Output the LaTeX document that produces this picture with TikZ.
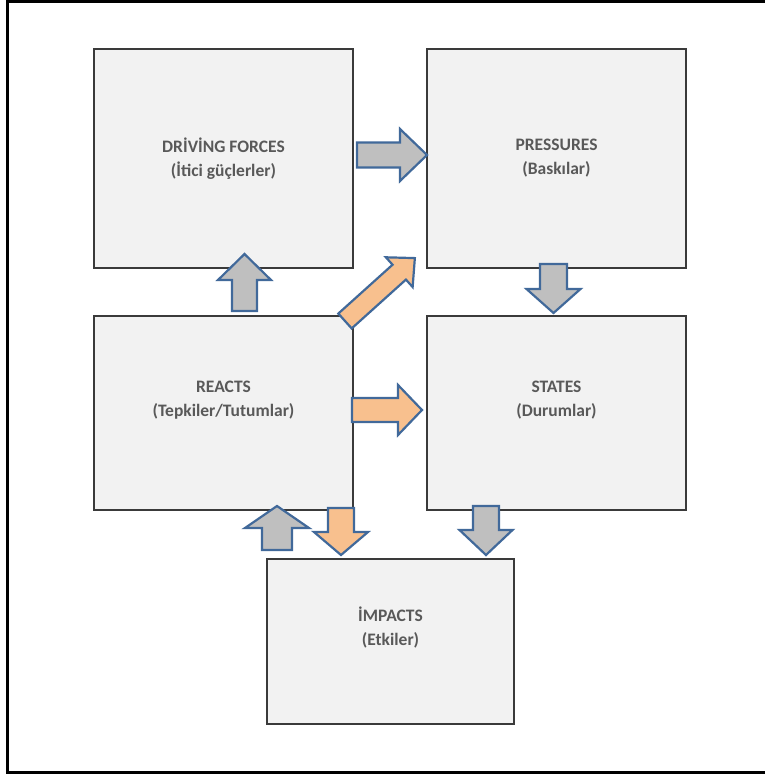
\documentclass[tikz,border=0pt]{standalone}
\usepackage{fontspec}
\setmainfont{Carlito}
\definecolor{boxfill}{HTML}{F2F2F2}
\definecolor{boxline}{HTML}{3A3A3A}
\definecolor{txt}{HTML}{595959}
\definecolor{arrgray}{HTML}{BFBFBF}
\definecolor{arrorange}{HTML}{F8C08E}
\definecolor{arrline}{HTML}{41699A}
\tikzset{
  box/.style={draw=boxline, fill=boxfill, line width=2.6pt, rectangle, inner sep=0pt},
  lbl/.style={text=txt, font=\fontsize{17.5}{24}\selectfont\bfseries, align=center, inner sep=0pt},
  garrow/.style={draw=arrline, fill=arrgray, line width=2.2pt, line join=miter},
  oarrow/.style={draw=arrline, fill=arrorange, line width=2.2pt, line join=miter},
}
% style, tail x, tail y, angle, length, shaft half, head half, head length
\newcommand\barrow[8]{\draw[#1, shift={(#2,#3)}, rotate=#4] (0,-#6) -- ({#5-#8},-#6) -- ({#5-#8},-#7) -- (#5,0) -- ({#5-#8},#7) -- ({#5-#8},#6) -- (0,#6) -- cycle;}
\begin{document}
\begin{tikzpicture}[x=1pt, y=-1pt]
\useasboundingbox (0,0) rectangle (765,776);
\draw[line width=3pt, black] (7,2) rectangle (790,772);
% boxes
\node[box, minimum width=259pt, minimum height=219pt] (df) at (223.5,158.5) {};
\node[box, minimum width=259pt, minimum height=219pt] (pr) at (556.5,158.5) {};
\node[box, minimum width=259pt, minimum height=194pt] (re) at (223.5,413) {};
\node[box, minimum width=259pt, minimum height=194pt] (st) at (556.5,413) {};
\node[box, minimum width=247pt, minimum height=165pt] (im) at (390.5,641.5) {};
% labels
\node[lbl] (dft) at (223.5,158.5) {DRİVİNG FORCES\\(İtici güçlerler)};
\node[lbl] (prt) at (556.5,158.5) {PRESSURES\\(Baskılar)};
\node[lbl] (ret) at (223.5,400) {REACTS\\(Tepkiler/Tutumlar)};
\node[lbl] (stt) at (556.5,400) {STATES\\(Durumlar)};
\node[lbl] (imt) at (390.5,627.5) {İMPACTS\\(Etkiler)};
% block arrows
\barrow{garrow}{357}{155}{0}{70}{12.5}{26}{27}
\barrow{garrow}{244.5}{311}{90}{57}{12.5}{26.5}{26}
\barrow{oarrow}{345}{321}{42}{94}{10}{20}{21}
\barrow{garrow}{553.5}{264}{-90}{49}{13.5}{27}{24}
\barrow{oarrow}{352}{410}{0}{70}{12}{25}{24}
\barrow{garrow}{277}{550}{90}{44}{15}{32}{22}
\barrow{oarrow}{341}{508}{-90}{47}{13}{27}{23}
\barrow{garrow}{486}{506}{-90}{49}{13}{26.5}{25}
\end{tikzpicture}
\end{document}
